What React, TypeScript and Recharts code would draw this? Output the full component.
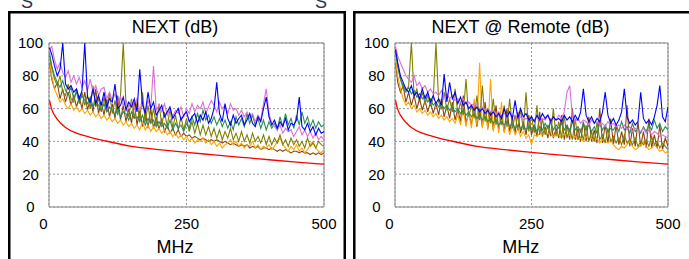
import React from 'react'
import { LineChart, Line, XAxis, YAxis, CartesianGrid, ReferenceArea } from 'recharts'

const FONT = 'Liberation Sans, Arial, sans-serif'

// frequency points (MHz)
const freq = [
  1, 5, 10, 15, 20, 25, 30, 35, 40, 45,
  50, 55, 60, 65, 70, 75, 80, 85, 90, 95,
  100, 105, 110, 115, 120, 125, 130, 135, 140, 145,
  150, 155, 160, 165, 170, 175, 180, 185, 190, 195,
  200, 205, 210, 215, 220, 225, 230, 235, 240, 245,
  250, 255, 260, 265, 270, 275, 280, 285, 290, 295,
  300, 305, 310, 315, 320, 325, 330, 335, 340, 345,
  350, 355, 360, 365, 370, 375, 380, 385, 390, 395,
  400, 405, 410, 415, 420, 425, 430, 435, 440, 445,
  450, 455, 460, 465, 470, 475, 480, 485, 490, 495,
  500,
]

// limit line
const limitFreq = [1, 3, 5, 10, 20, 30, 50, 75, 100, 150, 200, 250, 300, 350, 400, 450, 500]
const limitVals = [65, 62, 59.5, 56, 51.5, 48.5, 45, 42.5, 40.5, 37, 35, 33.3, 31.8, 30.3, 28.8, 27.4, 26.1]

// NEXT (dB)
const nextBlue = [
  97, 93, 86, 80, 84, 100, 75, 72, 74, 70,
  72, 66, 71, 100, 67, 64, 72, 63, 68, 62,
  70, 61, 66, 64, 75, 60, 62, 67, 59, 64,
  61, 66, 58, 84, 63, 57, 70, 60, 64, 56,
  59, 62, 55, 58, 61, 54, 57, 60, 53, 56,
  58, 52, 55, 57, 51, 56, 53, 58, 51, 54,
  60, 76, 57, 52, 63, 54, 50, 56, 51, 54,
  56, 50, 53, 57, 51, 49, 55, 52, 60, 67,
  55, 50, 53, 48, 52, 49, 54, 47, 51, 50,
  53, 67, 49, 47, 51, 46, 49, 44, 48, 45,
  46,
]
const nextOrchid = [
  96, 98, 90, 84, 88, 82, 79, 83, 76, 80,
  75, 79, 73, 77, 71, 78, 70, 74, 68, 72,
  73, 66, 70, 65, 69, 63, 67, 62, 65, 61,
  64, 60, 66, 59, 62, 58, 65, 60, 86, 59,
  62, 58, 63, 56, 60, 55, 59, 57, 61, 55,
  60, 57, 63, 58, 62, 60, 64, 57, 61, 65,
  62, 58, 64, 60, 62, 57, 63, 59, 60, 56,
  59, 55, 58, 54, 57, 52, 56, 53, 63, 72,
  57, 51, 49, 47, 50, 45, 48, 46, 47, 43,
  46, 49, 44, 47, 43, 46, 42, 45, 41, 43,
  41,
]
const nextGreen = [
  94, 86, 80, 76, 73, 77, 71, 69, 73, 66,
  70, 64, 68, 65, 63, 67, 61, 65, 62, 59,
  63, 58, 61, 59, 56, 60, 55, 58, 57, 53,
  58, 54, 55, 52, 56, 50, 54, 51, 53, 49,
  52, 49, 51, 48, 53, 47, 51, 48, 50, 46,
  51, 48, 55, 50, 57, 52, 59, 53, 56, 51,
  55, 50, 54, 49, 53, 48, 52, 47, 55, 50,
  54, 49, 57, 51, 56, 50, 54, 48, 53, 47,
  52, 48, 51, 47, 55, 49, 57, 50, 54, 48,
  56, 50, 58, 51, 55, 49, 53, 48, 52, 49,
  50,
]
const nextOlive = [
  92, 85, 78, 74, 80, 70, 68, 75, 66, 64,
  72, 63, 70, 62, 68, 60, 74, 61, 66, 58,
  67, 58, 70, 57, 65, 56, 68, 100, 62, 55,
  66, 54, 64, 53, 70, 52, 62, 51, 60, 50,
  63, 50, 58, 49, 60, 48, 56, 47, 55, 47,
  54, 46, 52, 45, 51, 44, 50, 44, 49, 43,
  48, 42, 47, 41, 46, 42, 48, 41, 45, 40,
  46, 40, 44, 39, 45, 40, 43, 39, 44, 38,
  43, 38, 42, 39, 44, 38, 41, 37, 42, 38,
  41, 37, 40, 36, 42, 37, 39, 36, 40, 38,
  37,
]
const nextOrange = [
  90, 80, 72, 68, 64, 66, 62, 60, 63, 59,
  61, 58, 60, 57, 59, 56, 58, 55, 57, 54,
  56, 53, 55, 52, 54, 51, 53, 50, 52, 49,
  51, 48, 50, 47, 52, 47, 50, 46, 49, 46,
  48, 45, 47, 44, 46, 43, 45, 42, 44, 41,
  43, 40, 42, 39, 41, 40, 42, 39, 41, 38,
  40, 37, 39, 36, 38, 39, 41, 38, 40, 37,
  39, 36, 38, 37, 40, 36, 38, 35, 37, 36,
  38, 35, 37, 40, 42, 38, 36, 34, 37, 35,
  38, 34, 36, 33, 35, 38, 40, 36, 34, 33,
  35,
]
const nextBrown = [
  88, 78, 72, 76, 66, 72, 64, 70, 62, 68,
  61, 67, 60, 70, 59, 66, 58, 72, 57, 64,
  56, 66, 55, 63, 54, 68, 53, 62, 52, 60,
  51, 64, 50, 59, 49, 58, 48, 60, 48, 55,
  47, 54, 46, 50, 45, 48, 44, 47, 43, 45,
  43, 44, 42, 43, 42, 41, 42, 41, 40, 41,
  40, 41, 40, 39, 40, 39, 38, 39, 38, 37,
  38, 37, 38, 36, 37, 36, 37, 35, 36, 36,
  35, 36, 35, 34, 35, 34, 35, 34, 33, 34,
  34, 33, 34, 33, 33, 32, 33, 32, 33, 32,
  33,
]

// NEXT @ Remote (dB)
const remoteBlue = [
  96, 88, 80, 76, 72, 70, 74, 68, 70, 66,
  72, 66, 70, 64, 68, 63, 66, 62, 81, 64,
  76, 66, 70, 63, 67, 62, 64, 60, 62, 59,
  61, 58, 60, 57, 59, 56, 58, 55, 57, 54,
  60, 55, 58, 54, 65, 54, 60, 55, 57, 53,
  55, 52, 56, 53, 57, 54, 56, 52, 55, 53,
  54, 52, 56, 53, 55, 52, 56, 53, 58, 72,
  56, 52, 55, 51, 54, 52, 58, 70, 56, 51,
  54, 50, 53, 58, 72, 55, 51, 53, 50, 52,
  70, 54, 51, 53, 50, 55, 62, 74, 55, 52,
  61,
]
const remoteOrchid = [
  98, 92, 88, 84, 80, 78, 76, 80, 74, 76,
  72, 74, 70, 72, 69, 70, 68, 71, 67, 69,
  66, 68, 65, 66, 64, 66, 63, 64, 62, 63,
  62, 60, 61, 59, 60, 58, 59, 57, 58, 56,
  57, 56, 58, 55, 56, 54, 55, 53, 54, 53,
  54, 53, 55, 52, 54, 53, 56, 52, 55, 53,
  56, 54, 58, 70, 74, 55, 52, 54, 51, 53,
  52, 50, 53, 51, 52, 50, 51, 49, 52, 50,
  51, 49, 50, 48, 50, 47, 49, 46, 48, 47,
  46, 48, 45, 47, 44, 46, 45, 43, 44, 43,
  42,
]
const remoteGreen = [
  94, 86, 78, 74, 71, 73, 69, 71, 67, 69,
  66, 68, 64, 66, 62, 64, 61, 63, 60, 62,
  59, 61, 58, 60, 57, 59, 56, 58, 55, 57,
  54, 56, 53, 55, 52, 54, 51, 53, 50, 52,
  50, 52, 49, 51, 48, 50, 48, 50, 47, 49,
  47, 50, 46, 49, 47, 51, 48, 52, 47, 50,
  48, 51, 47, 50, 46, 52, 47, 49, 46, 51,
  47, 50, 46, 49, 45, 51, 47, 50, 46, 48,
  47, 50, 46, 52, 47, 49, 45, 51, 46, 48,
  45, 49, 46, 50, 47, 53, 48, 51, 46, 49,
  47,
]
const remoteOlive = [
  96, 86, 78, 72, 70, 74, 100, 68, 72, 64,
  70, 63, 68, 62, 66, 100, 64, 60, 70, 59,
  66, 58, 72, 57, 64, 56, 78, 55, 62, 54,
  68, 53, 74, 52, 60, 51, 66, 50, 58, 50,
  62, 49, 66, 48, 56, 47, 60, 47, 70, 46,
  56, 45, 62, 44, 54, 44, 50, 43, 60, 43,
  52, 42, 56, 42, 48, 41, 54, 41, 47, 41,
  50, 40, 46, 40, 52, 41, 44, 39, 48, 40,
  43, 39, 42, 38, 44, 39, 41, 38, 42, 37,
  40, 38, 41, 37, 43, 38, 40, 36, 39, 37,
  35,
]
const remoteOrange = [
  90, 80, 72, 66, 62, 64, 60, 62, 58, 60,
  57, 59, 56, 58, 55, 57, 54, 56, 53, 55,
  52, 54, 51, 56, 50, 60, 49, 58, 48, 66,
  50, 88, 48, 60, 47, 78, 46, 56, 45, 64,
  45, 52, 44, 50, 44, 48, 43, 46, 42, 44,
  38, 44, 43, 45, 44, 46, 45, 44, 43, 45,
  44, 42, 45, 43, 44, 42, 43, 41, 42, 40,
  43, 41, 42, 40, 42, 39, 41, 40, 39, 41,
  38, 36, 35, 37, 36, 38, 40, 37, 35, 36,
  38, 40, 37, 35, 36, 38, 36, 34, 35, 33,
  34,
]
const remoteBrown = [
  88, 76, 70, 74, 64, 70, 62, 68, 60, 66,
  59, 65, 58, 64, 57, 63, 56, 66, 55, 62,
  54, 64, 53, 60, 52, 68, 51, 58, 50, 62,
  49, 60, 49, 64, 48, 58, 47, 62, 47, 56,
  46, 60, 46, 54, 45, 58, 45, 52, 44, 56,
  44, 50, 43, 58, 43, 49, 42, 54, 42, 48,
  42, 56, 41, 50, 41, 60, 41, 48, 40, 52,
  40, 55, 40, 47, 39, 60, 39, 50, 39, 54,
  38, 50, 38, 46, 38, 62, 37, 48, 37, 52,
  37, 46, 36, 54, 36, 44, 36, 50, 35, 42,
  37,
]

const yTicks = [0, 20, 40, 60, 80, 100]
const xTicks = [0, 250, 500]

const toPoints = (xs: number[], vs: number[]) => xs.map((f, i) => ({ f, v: vs[i] }))

const YTick = ({ x, y, payload }: any) => (
  <text x={x - 18.5} y={y} dy="0.36em" textAnchor="middle" fontSize={15} fontFamily={FONT} fill="#000">
    {payload.value}
  </text>
)

const XTick = ({ x, y, payload }: any) => (
  <text x={x + (payload.value === 0 ? -5.5 : 0)} y={y + 22} textAnchor="middle" fontSize={15} fontFamily={FONT} fill="#000">
    {payload.value}
  </text>
)

interface PanelProps {
  left: number
  width: number
  series: { color: string; values: number[] }[]
}

function Panel({ left, width, series }: PanelProps) {
  return (
    <div style={{ position: 'absolute', left, top: 0 }}>
      <LineChart width={width} height={259} margin={{ top: 43, right: 21, bottom: 0, left: 0 }}>
        <CartesianGrid stroke="#999" strokeDasharray="2 2" />
        <XAxis
          dataKey="f"
          type="number"
          domain={[0, 500]}
          ticks={xTicks}
          height={52}
          tickSize={0}
          tickMargin={0}
          axisLine={false}
          tick={<XTick />}
          allowDataOverflow
        />
        <YAxis
          type="number"
          domain={[0, 100]}
          ticks={yTicks}
          width={49}
          tickSize={0}
          tickMargin={0}
          axisLine={false}
          tick={<YTick />}
          allowDataOverflow
        />
        <ReferenceArea x1={0} x2={500} y1={0} y2={100} fill="none" stroke="#888" strokeWidth={1} ifOverflow="visible" />
        {series.map((s, i) => (
          <Line
            key={i}
            data={toPoints(freq, s.values)}
            dataKey="v"
            type="linear"
            stroke={s.color}
            strokeWidth={1.1}
            dot={false}
            isAnimationActive={false}
          />
        ))}
        <Line
          data={toPoints(limitFreq, limitVals)}
          dataKey="v"
          type="monotone"
          stroke="#ff0000"
          strokeWidth={1.3}
          dot={false}
          isAnimationActive={false}
        />
      </LineChart>
    </div>
  )
}

export default function App() {
  const nextSeries = [
    { color: '#8b4513', values: nextBrown },
    { color: '#ffa500', values: nextOrange },
    { color: '#808000', values: nextOlive },
    { color: '#2e8b57', values: nextGreen },
    { color: '#da70d6', values: nextOrchid },
    { color: '#0000ff', values: nextBlue },
  ]
  const remoteSeries = [
    { color: '#8b4513', values: remoteBrown },
    { color: '#ffa500', values: remoteOrange },
    { color: '#808000', values: remoteOlive },
    { color: '#2e8b57', values: remoteGreen },
    { color: '#da70d6', values: remoteOrchid },
    { color: '#0000ff', values: remoteBlue },
  ]
  return (
    <div style={{ position: 'absolute', left: 0, top: 0, width: 689, height: 259, overflow: 'hidden', background: '#fff' }}>
      <Panel left={0} width={345} series={nextSeries} />
      <Panel left={346} width={343} series={remoteSeries} />
      <svg width={689} height={259} style={{ position: 'absolute', left: 0, top: 0, pointerEvents: 'none' }}>
        <rect x={9.25} y={12.25} width={335.5} height={300} fill="none" stroke="#000" strokeWidth={2.5} />
        <rect x={354.3} y={12.25} width={400} height={300} fill="none" stroke="#000" strokeWidth={2.5} />
        <text x={21} y={8} fontSize={18} fontFamily={FONT} fill="#223355">S</text>
        <text x={315} y={8} fontSize={18} fontFamily={FONT} fill="#223355">S</text>
        <text x={175} y={33.3} textAnchor="middle" fontSize={18} fontFamily={FONT} fill="#000">NEXT (dB)</text>
        <text x={520.5} y={33.3} textAnchor="middle" fontSize={18} fontFamily={FONT} fill="#000">NEXT @ Remote (dB)</text>
        <text x={175} y={253} textAnchor="middle" fontSize={18} fontFamily={FONT} fill="#000">MHz</text>
        <text x={520.7} y={253} textAnchor="middle" fontSize={18} fontFamily={FONT} fill="#000">MHz</text>
      </svg>
    </div>
  )
}
